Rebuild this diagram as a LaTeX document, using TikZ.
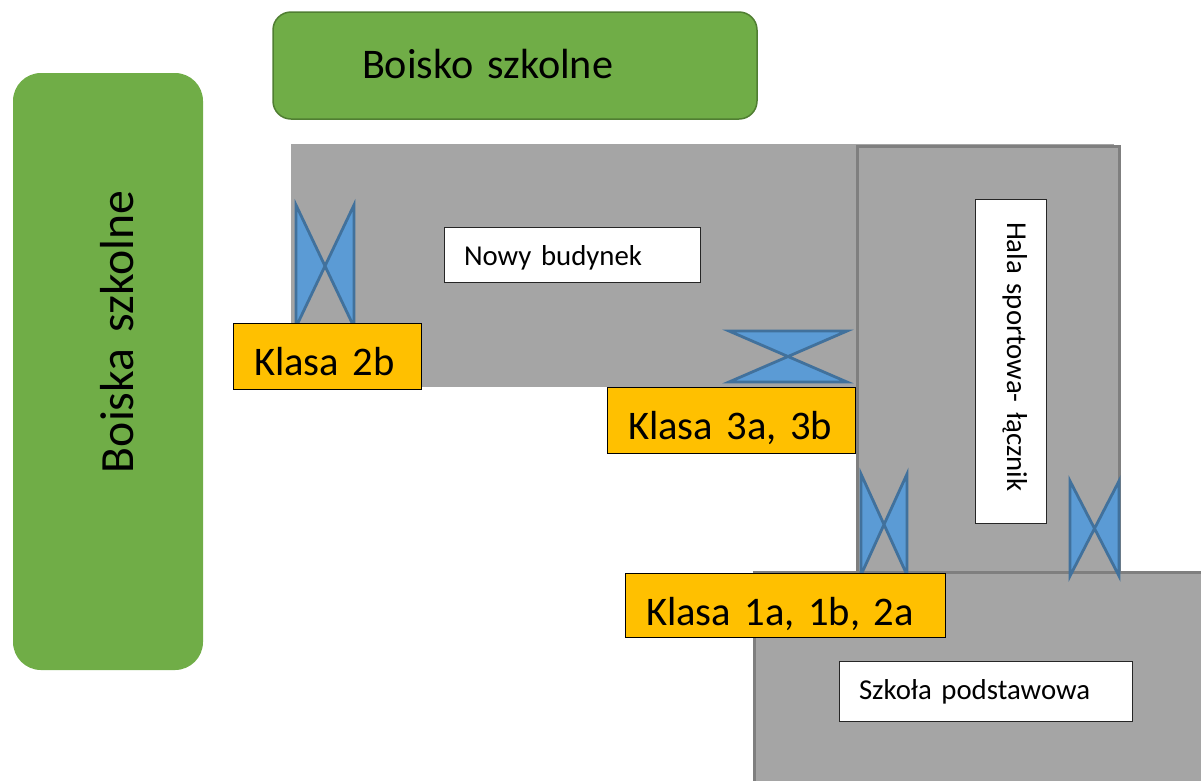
\documentclass[tikz,border=0pt]{standalone}
\usepackage{fontspec}
\setmainfont[WordSpace=0.75]{Carlito}
\definecolor{grn}{HTML}{70AD47}
\definecolor{grnd}{HTML}{507E32}
\definecolor{gry}{HTML}{A5A5A5}
\definecolor{gryd}{HTML}{7F7F7F}
\definecolor{org}{HTML}{FFC000}
\definecolor{blu}{HTML}{5B9BD5}
\definecolor{blud}{HTML}{41719C}
\newcommand{\lift}[2]{\smash{\raisebox{#1pt}{#2}}}
\tikzset{
  x=1pt,y=-1pt,
  bx/.style n args={2}{inner sep=0pt,outer sep=0pt,minimum width=#1 pt,minimum height=#2 pt,text width=#1 pt,align=left},
  greenbox/.style={fill=grn},
  building/.style={fill=gry,draw=gryd,line width=3pt},
  classbox/.style={fill=org,draw=black,line width=1pt,font=\fontsize{40.6}{44}\selectfont},
  namebox/.style={fill=white,draw=black!85,line width=1pt,font=\fontsize{28.8}{32}\selectfont},
  bowtie/.style={fill=blu,draw=blud,line width=2.8pt,miter limit=10},
}
\begin{document}
\begin{tikzpicture}
\useasboundingbox (0,0) rectangle (1201,780);
\node[greenbox,bx={484}{107},draw=grnd,line width=1.5pt,rounded corners=18pt,font=\fontsize{42.2}{46}\selectfont] (top) at (515,65.5) {\hspace*{89pt}\lift{-12.5}{Boisko szkolne}};
\node[greenbox,bx={597}{190},rotate=90,rounded corners=28pt,font=\fontsize{47.7}{52}\selectfont] (left) at (108,371.5) {\hspace*{197pt}\lift{-25}{Boiska szkolne}};
\fill[gry] (291,144) rectangle (1114,387);
\node[building,bx={262}{426}] (hall) at (988,359) {};
\begin{scope}
\clip (0,0) rectangle (1201,780);
\node[building,bx={520}{260}] (school) at (1014,702) {};
\end{scope}
\draw[bowtie] (296,205) -- (354,327) -- (354,205) -- (296,327) -- cycle;
\draw[bowtie] (729,331) -- (847,382) -- (729,382) -- (847,331) -- cycle;
\draw[bowtie] (861,474) -- (907,575) -- (907,474) -- (861,575) -- cycle;
\draw[bowtie] (1070,481) -- (1119,576) -- (1119,481) -- (1070,576) -- cycle;
\node[classbox,bx={188}{66}] (k2b) at (327,356) {\hspace*{21pt}\lift{-19}{Klasa 2b}};
\node[classbox,bx={248}{66}] (k3a) at (731,420) {\hspace*{21pt}\lift{-19}{Klasa 3a, 3b}};
\node[classbox,bx={320}{64}] (k1a) at (785,605) {\hspace*{21pt}\lift{-20}{Klasa 1a, 1b, 2a}};
\node[namebox,bx={256}{55}] (nowy) at (572,254.5) {\hspace*{20pt}\lift{-10.5}{Nowy budynek}};
\node[namebox,bx={324}{71},rotate=-90] (hala) at (1010.5,361) {\hspace*{23pt}\lift{-3.5}{Hala sportowa- łącznik}};
\node[namebox,bx={293}{60}] (szkola) at (985.5,691) {\hspace*{20pt}\lift{-8}{Szkoła podstawowa}};
\end{tikzpicture}
\end{document}
